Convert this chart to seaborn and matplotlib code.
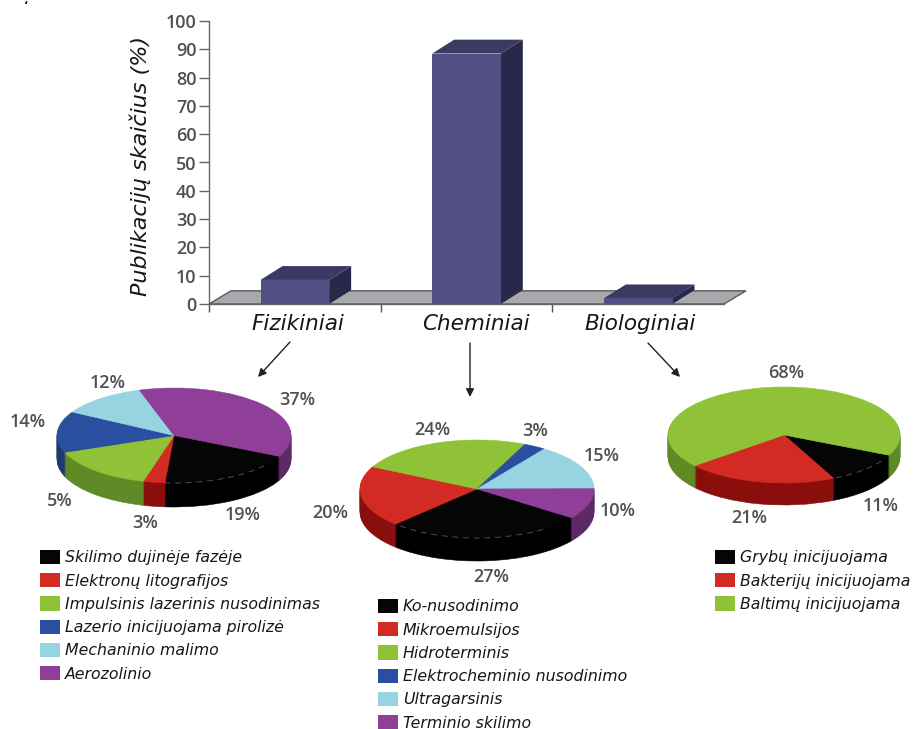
import numpy as np
import matplotlib
matplotlib.use("Agg")
import matplotlib.pyplot as plt
from matplotlib.patches import Patch, Polygon, FancyArrowPatch
from matplotlib.transforms import ScaledTranslation
import seaborn as sns

# Publication shares by synthesis route
categories = ["Fizikiniai", "Cheminiai", "Biologiniai"]
publications = [8.5, 88.5, 2]

# Physical methods
physical_names = ["Skilimo dujinėje fazėje", "Elektronų litografijos",
                  "Impulsinis lazerinis nusodinimas", "Lazerio inicijuojama pirolizė",
                  "Mechaninio malimo", "Aerozolinio"]
physical_shares = [19, 3, 15, 14, 12, 37]
# The green wedge carries 15 of the 100; its printed caption reads 5%.
physical_captions = ["19%", "3%", "5%", "14%", "12%", "37%"]

# Chemical methods
chemical_names = ["Ko-nusodinimo", "Mikroemulsijos", "Hidroterminis",
                  "Elektrocheminio nusodinimo", "Ultragarsinis", "Terminio skilimo"]
chemical_shares = [27, 20, 24, 3, 15, 10]

# Biological methods
biological_names = ["Grybų inicijuojama", "Bakterijų inicijuojama", "Baltimų inicijuojama"]
biological_shares = [11, 21, 68]

top_colors = ["#050505", "#d42a24", "#90c238", "#2a4fa0", "#97d4e2", "#8f3f98"]
wall_colors = ["#000000", "#8a0f0c", "#5f8a26", "#1f3a70", "#6a9aa5", "#5c2a66"]

W, H = 916, 729
sns.set_theme(style="white")
plt.rcParams["font.family"] = ["Open Sans", "DejaVu Sans"]
fig = plt.figure(figsize=(W / 100, H / 100), dpi=100, facecolor="white")
GREY = "#505053"
HAND = dict(family="DejaVu Sans", style="oblique", color="#161616")


def frac(x, y):
    return x / W, 1 - y / H


def pixel_axes(left, top, right, bottom):
    return fig.add_axes([left / W, 1 - bottom / H, (right - left) / W, (bottom - top) / H])


# Bar chart with extruded faces
ax = pixel_axes(209, 21, 724, 304)
sns.barplot(x=categories, y=publications, color="#524f85", saturation=1, width=0.4,
            ax=ax, zorder=3, linewidth=0, edgecolor="none")
ax.set_xlim(-0.5, 2.5)
ax.set_ylim(0, 100)
ax.set_yticks(range(0, 101, 10))
dx, dy = 0.128, 4.9

ax.add_patch(Polygon([(-0.5, 0), (-0.5 + dx, dy * 0.95), (2.5 + dx, dy * 0.95), (2.5, 0)],
                     closed=True, facecolor="#a9a8ad", edgecolor="#5a5a5a", lw=1,
                     clip_on=False, zorder=1))
for bar in ax.patches[:len(categories)]:
    x0, x1 = bar.get_x(), bar.get_x() + bar.get_width()
    h = bar.get_height()
    ax.add_patch(Polygon([(x1, 0), (x1 + dx, dy), (x1 + dx, h + dy), (x1, h)], closed=True,
                         facecolor="#28284a", edgecolor="none", clip_on=False, zorder=2))
    ax.add_patch(Polygon([(x0, h), (x0 + dx, h + dy), (x1 + dx, h + dy), (x1, h)], closed=True,
                         facecolor="#3b3a63", edgecolor="none", clip_on=False, zorder=2))

sns.despine(ax=ax, right=True, top=True)
for side in ("left", "bottom"):
    ax.spines[side].set_color("#666666")
    ax.spines[side].set_linewidth(1)
ax.set_xticks([-0.5, 0.5, 1.5], minor=True)
ax.tick_params(axis="x", which="minor", bottom=True, length=6, width=1, color="#555555")
ax.tick_params(axis="x", which="major", bottom=False, length=0, pad=7)
ax.tick_params(axis="y", left=True, length=7, width=1, color="#666666", pad=2,
               labelsize=13, labelcolor=GREY)
for lab in ax.get_yticklabels():
    lab.set_fontweight("semibold")
shifts = [3, 9, 2]
for lab, shift in zip(ax.get_xticklabels(), shifts):
    lab.set(fontsize=15.5, **HAND)
    lab.set_transform(lab.get_transform() + ScaledTranslation(shift / 100, 0, fig.dpi_scale_trans))
ax.set_xlabel("")
ax.set_ylabel("")
fig.text(*frac(140, 166), "Publikacijų skaičius (%)", rotation=90, ha="center", va="center",
         fontsize=16, **HAND)


def draw_pie(cx, top, rx, ry, depth, shares, start):
    """Extruded pie: stacked dark copies form the wall, the bright copy is the lid."""
    ax = pixel_axes(cx - rx * 1.05, top - ry * 0.05, cx + rx * 1.05,
                    top + 2 * ry + depth + ry * 0.05)
    n = len(shares)
    for d in np.arange(depth, -1, -1.0):
        palette = top_colors if d == 0 else wall_colors
        wedges, _ = ax.pie(shares, colors=palette[:n], startangle=start, counterclock=False,
                           center=(0, -d / ry))
        for w in wedges:
            w.set_edgecolor(w.get_facecolor())
            w.set_linewidth(0.4)
    # Faint seam along the rim of the black wedge
    sweep = 360 * shares[0] / sum(shares)
    theta = np.radians(np.linspace(start - 0.2 * sweep, start - sweep, 60))
    ax.plot(np.cos(theta), np.sin(theta), color="#9a9a9a", lw=0.7, alpha=0.5,
            dashes=(6, 5), zorder=20)
    ax.set_aspect("auto")
    ax.set_xlim(-1.05, 1.05)
    ax.set_ylim(-1.05 - depth / ry, 1.05)
    ax.axis("off")


draw_pie(174, 388, 117, 47.5, 24, physical_shares, -26)
draw_pie(477, 440, 117, 49, 23, chemical_shares, -36)
draw_pie(784, 387, 116, 48, 22, biological_shares, -25)


def caption(x, y, text):
    fig.text(*frac(x, y), text, ha="center", va="center", fontsize=13,
             fontweight="semibold", color=GREY)


for pos, text in zip([(243, 515), (145, 523), (60, 501), (28, 422), (108, 383), (297, 400)],
                     physical_captions):
    caption(*pos, text)
for pos, share in zip([(491, 577), (330, 513), (432, 430), (535, 431), (602, 456), (618, 511)],
                      chemical_shares):
    caption(*pos, f"{share}%")
for pos, share in zip([(881, 506), (749, 518), (786, 373)], biological_shares):
    caption(*pos, f"{share}%")


def method_legend(x, y, names):
    handles = [Patch(facecolor=c, edgecolor="none", label=n) for c, n in zip(top_colors, names)]
    leg = fig.legend(handles=handles, loc="upper left", bbox_to_anchor=frac(x, y), frameon=False,
                     borderpad=0, borderaxespad=0, fontsize=11.3, labelspacing=0.5,
                     handlelength=1.27, handleheight=1.0, handletextpad=0.32,
                     labelcolor="#161616")
    for t in leg.get_texts():
        t.set(family="DejaVu Sans", style="oblique")


method_legend(40, 550, physical_names)
method_legend(378, 599, chemical_names)
method_legend(715, 550, biological_names)

# Arrows from each category down to its pie
for start, end in [((290, 342), (258, 377)), ((470, 343), (470, 397)), ((648, 343), (680, 377))]:
    fig.add_artist(FancyArrowPatch(frac(*start), frac(*end), transform=fig.transFigure,
                                   arrowstyle="-|>", mutation_scale=12, color="#222222",
                                   lw=1, shrinkA=0, shrinkB=0))

fig.text(*frac(26, 1), "‘", ha="center", va="top", fontsize=8, fontweight="bold",
         color="#111111", family="DejaVu Sans")

fig.savefig("out.png", dpi=100, facecolor="white")
